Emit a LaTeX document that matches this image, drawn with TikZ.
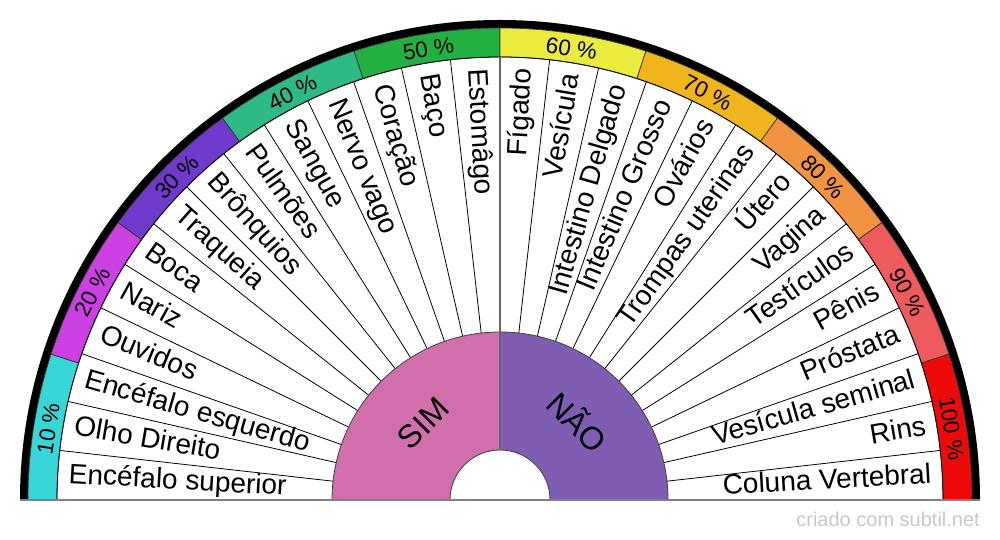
\documentclass[tikz,border=0pt]{standalone}
\usepackage{fontspec}
\setmainfont{Liberation Sans}
\definecolor{cA}{HTML}{38D6D8}
\definecolor{cB}{HTML}{CC3FE2}
\definecolor{cC}{HTML}{6F3ACC}
\definecolor{cD}{HTML}{2EBA86}
\definecolor{cE}{HTML}{22B140}
\definecolor{cF}{HTML}{E9EB3D}
\definecolor{cG}{HTML}{F0B51C}
\definecolor{cH}{HTML}{F29342}
\definecolor{cI}{HTML}{EF5B5D}
\definecolor{cJ}{HTML}{EE0A0A}
\definecolor{simc}{HTML}{D16EAC}
\definecolor{naoc}{HTML}{7F5DB3}
\definecolor{wmc}{HTML}{C8C8C8}
\begin{document}
\begin{tikzpicture}[x=1pt,y=1pt,
  itemlabel/.style={font=\fontsize{28}{31}\selectfont, inner sep=0pt, text height=20.2pt, text depth=5.6pt},
  pctlabel/.style={font=\fontsize{22.5}{25}\selectfont, inner sep=0pt, text height=16.1pt, text depth=0pt},
  halflabel/.style={font=\fontsize{32}{36}\selectfont, inner sep=0pt, text height=23pt, text depth=0pt},
  spoke/.style={line width=0.8pt, draw=black},
  bandedge/.style={line width=0.7pt, draw=black!80},
  halfedge/.style={line width=0.8pt, draw=black!75}]
\useasboundingbox (0,0) rectangle (1000,540);
\begin{scope}[shift={(500,40)}]
  % outer black ring
  \fill[black] (180:480) arc[start angle=180,end angle=0,radius=480] -- (0:472) arc[start angle=0,end angle=180,radius=472] -- cycle;
  % percentage bands
  \foreach \c [count=\i from 0] in {cA,cB,cC,cD,cE,cF,cG,cH,cI,cJ} {
    \pgfmathsetmacro\a{180-18*\i}
    \pgfmathsetmacro\b{180-18*(\i+1)}
    \filldraw[fill=\c, bandedge] (\a:443) arc[start angle=\a,end angle=\b,radius=443] -- (\b:472) arc[start angle=\b,end angle=\a,radius=472] -- cycle;
  }
  % item ring
  \draw[spoke] (180:443) arc[start angle=180,end angle=0,radius=443];
  \foreach \k in {1,...,27} {
    \pgfmathsetmacro\a{180-\k*180/28}
    \draw[spoke] (\a:168) -- (\a:443);
  }
  % SIM / NAO
  \filldraw[fill=simc, halfedge] (180:168) arc[start angle=180,end angle=90,radius=168] -- (90:50) arc[start angle=90,end angle=180,radius=50] -- cycle;
  \filldraw[fill=naoc, halfedge] (0:168) arc[start angle=0,end angle=90,radius=168] -- (90:50) arc[start angle=90,end angle=0,radius=50] -- cycle;
  \draw[line width=1.2pt, draw=black!60] (90:50) -- (90:443);
  % base line
  \draw[line width=1.5pt, draw=gray] (-480,0) -- (480,0);
  % item labels, left half
  \foreach \t [count=\i from 0] in {Encéfalo superior,Olho Direito,Encéfalo esquerdo,Ouvidos,Nariz,Boca,Traqueia,Brônquios,Pulmões,Sangue,Nervo vago,Coração,Baço,Estomâgo} {
    \pgfmathsetmacro\a{180-(\i+0.5)*180/28}
    \pgfmathsetmacro\r{\a-180}
    \node[itemlabel, anchor=west, rotate=\r] (L\i) at (\a:432) {\t};
  }
  % item labels, right half
  \foreach \t [count=\i from 14] in {Fígado,Vesícula,Intestino Delgado,Intestino Grosso,Ovários,Trompas uterinas,Útero,Vagina,Testículos,Pênis,Próstata,Vesícula seminal,Rins,Coluna Vertebral} {
    \pgfmathsetmacro\a{180-(\i+0.5)*180/28}
    \node[itemlabel, anchor=east, rotate=\a] (L\i) at (\a:432) {\t};
  }
  % percentage labels
  \foreach \p [count=\i from 0] in {10,20,30,40,50,60,70,80,90,100} {
    \pgfmathsetmacro\a{171-18*\i}
    \pgfmathsetmacro\r{\a-90}
    \node[pctlabel, rotate=\r] (P\i) at (\a:457.5) {\p\ \%};
  }
  \node[halflabel, rotate=45] (sim) at (135:109) {SIM};
  \node[halflabel, rotate=-45] (nao) at (45:109) {NÃO};
\end{scope}
\node[anchor=base east, font=\fontsize{20}{22}\selectfont, text=wmc, inner sep=0pt] (wm) at (980,13) {criado com subtil.net};
\end{tikzpicture}
\end{document}
